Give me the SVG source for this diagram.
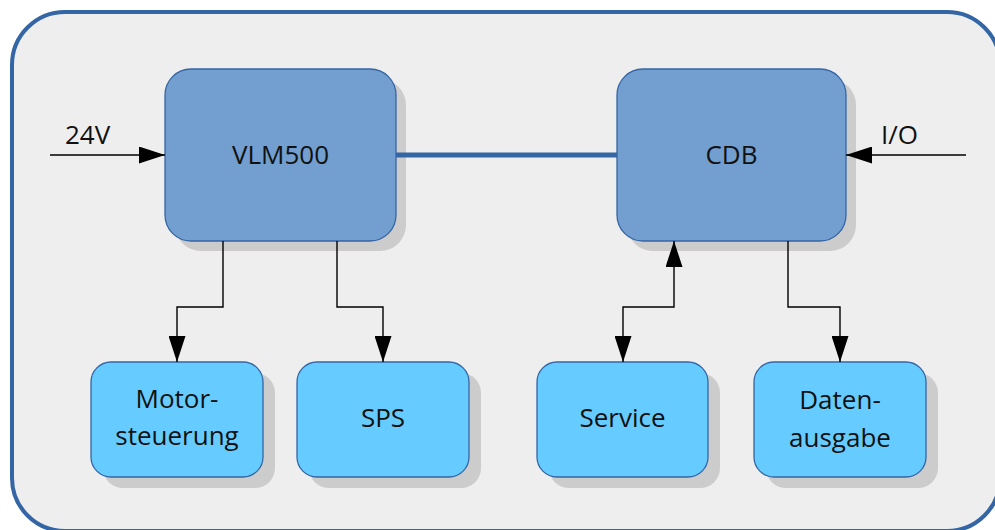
<svg xmlns="http://www.w3.org/2000/svg" width="995" height="530" viewBox="0 0 995 530">
<defs>
<marker id="ah" viewBox="0 0 26 17" markerWidth="26" markerHeight="17" refX="26" refY="8.5" orient="auto" markerUnits="userSpaceOnUse">
<path d="M0,0 L26,8.5 L0,17 Z" fill="#000"/>
</marker>
<marker id="as" viewBox="0 0 26 17" markerWidth="26" markerHeight="17" refX="0" refY="8.5" orient="auto" markerUnits="userSpaceOnUse">
<path d="M26,0 L0,8.5 L26,17 Z" fill="#000"/>
</marker>
</defs>
<style>
.big{fill:#729fcf;stroke:#3465a4;stroke-width:1.3}
.small{fill:#66ccff;stroke:#3465a4;stroke-width:1.3}
.sh{fill:#cccccc}
.t{font-family:"Open Sans","Noto Sans",sans-serif;font-size:26px;fill:#111;text-anchor:middle}
.lbl{font-family:"Open Sans","Noto Sans",sans-serif;font-size:26px;fill:#111}
.c{fill:none;stroke:#000;stroke-width:1.4}
</style>
<rect x="12" y="12" width="988" height="519" rx="53" fill="#eeeeee" stroke="#3465a4" stroke-width="4"/>
<g id="vlm500">
<rect class="sh" x="175" y="79" width="231" height="172" rx="26"/>
<rect class="big" x="165" y="69" width="231" height="172" rx="26"/>
<text class="t" x="280.5" y="164">VLM500</text>
</g>
<g id="cdb">
<rect class="sh" x="627" y="79" width="229" height="172" rx="26"/>
<rect class="big" x="617" y="69" width="229" height="172" rx="26"/>
<text class="t" x="731.5" y="164">CDB</text>
</g>
<g id="motor">
<rect class="sh" x="103" y="373" width="172" height="115" rx="20"/>
<rect class="small" x="91" y="362" width="172" height="115" rx="20"/>
<text class="t" x="177" y="408">Motor-</text>
<text class="t" x="177" y="445">steuerung</text>
</g>
<g id="sps">
<rect class="sh" x="309" y="373" width="172" height="115" rx="20"/>
<rect class="small" x="297" y="362" width="172" height="115" rx="20"/>
<text class="t" x="383" y="427">SPS</text>
</g>
<g id="service">
<rect class="sh" x="549" y="373" width="171" height="115" rx="20"/>
<rect class="small" x="537" y="362" width="171" height="115" rx="20"/>
<text class="t" x="622.5" y="427">Service</text>
</g>
<g id="daten">
<rect class="sh" x="766" y="373" width="172" height="115" rx="20"/>
<rect class="small" x="754" y="362" width="172" height="115" rx="20"/>
<text class="t" x="840" y="409">Daten-</text>
<text class="t" x="840" y="447">ausgabe</text>
</g>
<g id="connectors">
<line x1="396" y1="155" x2="617" y2="155" stroke="#3465a4" stroke-width="5"/>
<line class="c" x1="50" y1="155" x2="165" y2="155" marker-end="url(#ah)"/>
<line class="c" x1="966" y1="155" x2="846" y2="155" marker-end="url(#ah)"/>
<polyline class="c" points="223,241 223,307 177,307 177,362" marker-end="url(#ah)"/>
<polyline class="c" points="337,241 337,307 383,307 383,362" marker-end="url(#ah)"/>
<polyline class="c" points="623,362 623,307 674,307 674,241" marker-start="url(#as)" marker-end="url(#ah)"/>
<polyline class="c" points="788,241 788,307 840,307 840,362" marker-end="url(#ah)"/>
<text class="lbl" x="65" y="144">24V</text>
<text class="lbl" x="881" y="144">I/O</text>
</g>
</svg>
